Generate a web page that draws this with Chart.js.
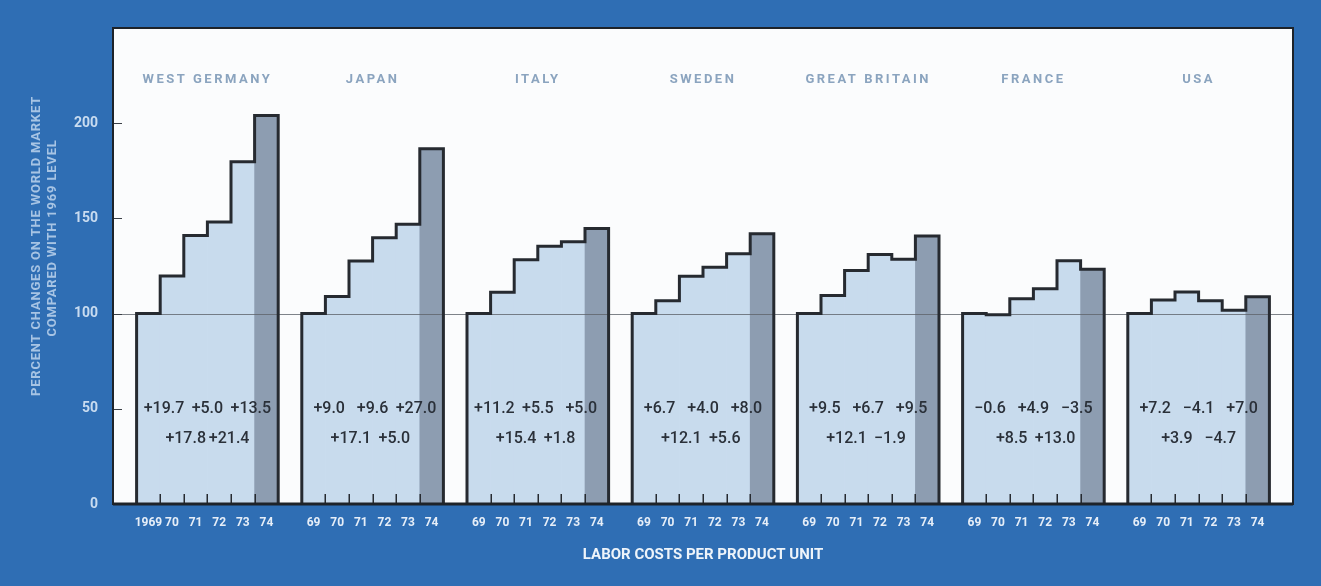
<!DOCTYPE html>
<html>
<head>
<meta charset="utf-8">
<title>Labor costs per product unit</title>
<script src="https://cdn.jsdelivr.net/npm/chart.js@4/dist/chart.umd.min.js"></script>
<style>
  html, body { margin: 0; padding: 0; background: #2f6eb4; }
  canvas { display: block; }
</style>
</head>
<body>
<canvas id="chart" width="1321" height="586"></canvas>
<script>
// ---- data ----
const countries = ['WEST GERMANY', 'JAPAN', 'ITALY', 'SWEDEN', 'GREAT BRITAIN', 'FRANCE', 'USA'];
const firstYearLabel = '1969';
const yearLabels = ['69', '70', '71', '72', '73', '74'];

// index values, 1969 = 100
const westGermany  = [100, 119.7, 141.0, 148.1, 179.8, 204.0];
const japan        = [100, 109.0, 127.6, 139.9, 146.9, 186.6];
const italy        = [100, 111.2, 128.3, 135.4, 137.8, 144.7];
const sweden       = [100, 106.7, 119.6, 124.4, 131.4, 141.9];
const greatBritain = [100, 109.5, 122.7, 131.0, 128.5, 140.7];
const france       = [100,  99.4, 107.8, 113.1, 127.8, 123.3];
const usa          = [100, 107.2, 111.4, 106.8, 101.8, 108.9];

// year-on-year changes, 1970 ... 1974
const westGermanyChanges  = ['+19.7', '+17.8', '+5.0', '+21.4', '+13.5'];
const japanChanges        = ['+9.0', '+17.1', '+9.6', '+5.0', '+27.0'];
const italyChanges        = ['+11.2', '+15.4', '+5.5', '+1.8', '+5.0'];
const swedenChanges       = ['+6.7', '+12.1', '+4.0', '+5.6', '+8.0'];
const greatBritainChanges = ['+9.5', '+12.1', '+6.7', '\u22121.9', '+9.5'];
const franceChanges       = ['\u22120.6', '+8.5', '+4.9', '+13.0', '\u22123.5'];
const usaChanges          = ['+7.2', '+3.9', '\u22124.1', '\u22124.7', '+7.0'];

const yAxisTitle = ['PERCENT CHANGES ON THE WORLD MARKET', 'COMPARED WITH 1969 LEVEL'];
const xAxisTitle = 'LABOR COSTS PER PRODUCT UNIT';

const seriesByCountry  = [westGermany, japan, italy, sweden, greatBritain, france, usa];
const changesByCountry = [westGermanyChanges, japanChanges, italyChanges, swedenChanges,
                          greatBritainChanges, franceChanges, usaChanges];

// ---- styling ----
const FONT = 'Roboto, "Liberation Sans", sans-serif';
const BLUE = '#2f6eb4';
const PANEL = '#fbfcfd';
const BAR_LIGHT = '#c8dbed';
const BAR_DARK = '#8d9db1';
const OUTLINE = '#262a30';

// ---- category slots: a blank slot before each country block and one at the end ----
const labels = [];
const values = [];
const colors = [];
const groups = [];
countries.forEach((name, gi) => {
  labels.push(''); values.push(null); colors.push('rgba(0,0,0,0)');
  const slots = [];
  seriesByCountry[gi].forEach((v, k) => {
    slots.push(labels.length);
    labels.push(gi === 0 && k === 0 ? firstYearLabel : yearLabels[k]);
    values.push(v);
    colors.push(k === yearLabels.length - 1 ? BAR_DARK : BAR_LIGHT);
  });
  groups.push({ name, slots, changes: changesByCountry[gi] });
});
labels.push(''); values.push(null); colors.push('rgba(0,0,0,0)');

// ---- drawing of panel, step outlines and in-chart text ----
const stepPanels = {
  id: 'stepPanels',
  beforeDraw(chart) {
    const { ctx, chartArea: a, width, height } = chart;
    ctx.save();
    ctx.fillStyle = BLUE;
    ctx.fillRect(0, 0, width, height);
    ctx.fillStyle = PANEL;
    ctx.fillRect(a.left, a.top, a.right - a.left, a.bottom - a.top);
    ctx.restore();
  },
  afterDatasetsDraw(chart) {
    const { ctx, chartArea: a, scales: { y } } = chart;
    const bars = chart.getDatasetMeta(0).data;
    ctx.save();

    // 1969 reference level
    const y100 = Math.round(y.getPixelForValue(100)) + 0.5;
    ctx.strokeStyle = 'rgba(95,100,108,0.8)';
    ctx.lineWidth = 1;
    ctx.beginPath();
    ctx.moveTo(a.left, y100);
    ctx.lineTo(a.right, y100);
    ctx.stroke();

    groups.forEach(g => {
      const els = g.slots.map(i => bars[i].getProps(['x', 'y', 'width', 'base'], true));
      const base = els[0].base;
      const w = els[0].width;
      const left = els[0].x - w / 2;
      const right = els[els.length - 1].x + w / 2;

      // small ticks between the years
      ctx.strokeStyle = OUTLINE;
      ctx.lineWidth = 1.5;
      for (let k = 0; k < els.length - 1; k++) {
        const bx = Math.round(els[k].x + w / 2) + 0.25;
        ctx.beginPath();
        ctx.moveTo(bx, base);
        ctx.lineTo(bx, base - 10);
        ctx.stroke();
      }

      // stepped outline
      ctx.strokeStyle = OUTLINE;
      ctx.lineWidth = 3;
      ctx.lineJoin = 'miter';
      ctx.beginPath();
      ctx.moveTo(left, base);
      els.forEach(e => {
        ctx.lineTo(e.x - w / 2, e.y);
        ctx.lineTo(e.x + w / 2, e.y);
      });
      ctx.lineTo(right, base);
      ctx.stroke();

      // country name
      const cx = els[2].x + w / 2;
      ctx.fillStyle = '#8ba4bf';
      ctx.font = 'bold 13px ' + FONT;
      ctx.letterSpacing = '2.5px';
      ctx.textAlign = 'center';
      ctx.textBaseline = 'middle';
      ctx.fillText(g.name, cx, a.top + 52);
      ctx.letterSpacing = '0px';

      // yearly changes, staggered over two rows
      const row1 = y.getPixelForValue(50);
      const row2 = row1 + 30;
      ctx.fillStyle = '#2a3039';
      ctx.font = '500 16px ' + FONT;
      g.changes.forEach((txt, k) => {
        const tx = cx + (k - 2) * 0.92 * w;
        ctx.fillText(txt, tx, k % 2 === 0 ? row1 : row2);
      });
    });

    // inner tick marks on the value axis
    ctx.strokeStyle = '#3a3f46';
    ctx.lineWidth = 1;
    y.ticks.forEach(t => {
      if (t.value > 0 && t.value <= 200) {
        const ty = Math.round(y.getPixelForValue(t.value)) + 0.5;
        ctx.beginPath();
        ctx.moveTo(a.left, ty);
        ctx.lineTo(a.left + 9, ty);
        ctx.stroke();
      }
    });

    // panel frame
    ctx.strokeStyle = '#1e2329';
    ctx.lineWidth = 2;
    ctx.strokeRect(a.left, a.top, a.right - a.left, a.bottom - a.top);
    ctx.lineWidth = 3;
    ctx.beginPath();
    ctx.moveTo(a.left, a.bottom);
    ctx.lineTo(a.right, a.bottom);
    ctx.stroke();

    // value axis title
    ctx.fillStyle = '#a7c4e4';
    ctx.font = 'bold 13px ' + FONT;
    ctx.letterSpacing = '0.8px';
    ctx.textAlign = 'center';
    ctx.textBaseline = 'middle';
    [[37, 246], [53, 238]].forEach(([tx, ty], i) => {
      ctx.save();
      ctx.translate(tx, ty);
      ctx.rotate(-Math.PI / 2);
      ctx.fillText(yAxisTitle[i], 0, 0);
      ctx.restore();
    });
    ctx.letterSpacing = '0px';
    ctx.restore();
  }
};

new Chart(document.getElementById('chart'), {
  type: 'bar',
  data: {
    labels,
    datasets: [{
      data: values,
      backgroundColor: colors,
      borderWidth: 0,
      barPercentage: 1,
      categoryPercentage: 1
    }]
  },
  options: {
    responsive: false,
    devicePixelRatio: 1,
    animation: false,
    layout: { padding: { top: 28, right: 28, bottom: 0, left: 0 } },
    plugins: { legend: { display: false }, tooltip: { enabled: false } },
    scales: {
      x: {
        grid: { display: false, drawTicks: false },
        border: { display: false },
        ticks: {
          autoSkip: false, maxRotation: 0, minRotation: 0, padding: 12,
          color: '#e6eef8',
          font: { family: FONT, size: 12, weight: 'bold' }
        },
        title: {
          display: true, text: xAxisTitle, color: '#eef4fa',
          font: { family: FONT, size: 15, weight: 'bold' },
          padding: { top: 0, bottom: 22 }
        },
        afterFit(scale) { scale.height = 82; }
      },
      y: {
        min: 0, max: 250,
        grid: { display: false, drawTicks: false },
        border: { display: false },
        ticks: {
          stepSize: 50, padding: 15,
          color: '#c9dcf0',
          font: { family: FONT, size: 14, weight: 'bold' },
          callback: v => (v > 200 ? null : v)
        },
        afterFit(scale) { scale.width = 113; }
      }
    }
  },
  plugins: [stepPanels]
});
</script>
</body>
</html>
